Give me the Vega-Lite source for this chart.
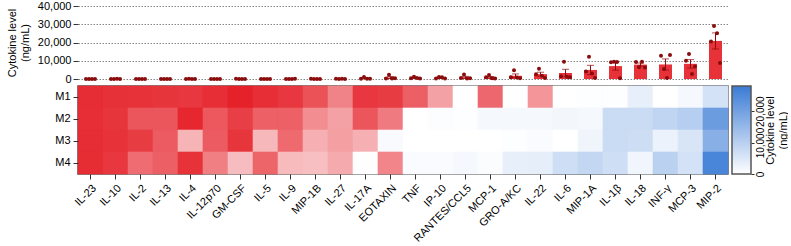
{
  "$schema": "https://vega.github.io/schema/vega-lite/v6.json",
  "padding": {"left": 6, "top": 0, "right": 0, "bottom": 0},
  "config": {
    "view": {"stroke": null},
    "font": "Liberation Sans",
    "axis": {"labelFont": "Liberation Sans", "titleFont": "Liberation Sans", "labelFontSize": 11, "titleFontSize": 11, "titleFontWeight": "normal", "labelColor": "#000000", "titleColor": "#000000", "tickColor": "#333333", "domainColor": "#333333"}
  },
  "datasets": {
    "cyto": [
      {"cytokine": "IL-23", "sample": "M1", "conc": 40, "heat": -26600},
      {"cytokine": "IL-23", "sample": "M2", "conc": 60, "heat": -26300},
      {"cytokine": "IL-23", "sample": "M3", "conc": 30, "heat": -26600},
      {"cytokine": "IL-23", "sample": "M4", "conc": 50, "heat": -26500},
      {"cytokine": "IL-10", "sample": "M1", "conc": 50, "heat": -26000},
      {"cytokine": "IL-10", "sample": "M2", "conc": 40, "heat": -25500},
      {"cytokine": "IL-10", "sample": "M3", "conc": 70, "heat": -25800},
      {"cytokine": "IL-10", "sample": "M4", "conc": 30, "heat": -25200},
      {"cytokine": "IL-2", "sample": "M1", "conc": 30, "heat": -25800},
      {"cytokine": "IL-2", "sample": "M2", "conc": 50, "heat": -21300},
      {"cytokine": "IL-2", "sample": "M3", "conc": 40, "heat": -24600},
      {"cytokine": "IL-2", "sample": "M4", "conc": 60, "heat": -18500},
      {"cytokine": "IL-13", "sample": "M1", "conc": 60, "heat": -25500},
      {"cytokine": "IL-13", "sample": "M2", "conc": 40, "heat": -21300},
      {"cytokine": "IL-13", "sample": "M3", "conc": 50, "heat": -20700},
      {"cytokine": "IL-13", "sample": "M4", "conc": 30, "heat": -20200},
      {"cytokine": "IL-4", "sample": "M1", "conc": 40, "heat": -25200},
      {"cytokine": "IL-4", "sample": "M2", "conc": 70, "heat": -27200},
      {"cytokine": "IL-4", "sample": "M3", "conc": 30, "heat": -9500},
      {"cytokine": "IL-4", "sample": "M4", "conc": 50, "heat": -25800},
      {"cytokine": "IL-12p70", "sample": "M1", "conc": 50, "heat": -26300},
      {"cytokine": "IL-12p70", "sample": "M2", "conc": 30, "heat": -21000},
      {"cytokine": "IL-12p70", "sample": "M3", "conc": 60, "heat": -20700},
      {"cytokine": "IL-12p70", "sample": "M4", "conc": 40, "heat": -16200},
      {"cytokine": "GM-CSF", "sample": "M1", "conc": 70, "heat": -28000},
      {"cytokine": "GM-CSF", "sample": "M2", "conc": 40, "heat": -24400},
      {"cytokine": "GM-CSF", "sample": "M3", "conc": 50, "heat": -25500},
      {"cytokine": "GM-CSF", "sample": "M4", "conc": 30, "heat": -8400},
      {"cytokine": "IL-5", "sample": "M1", "conc": 40, "heat": -26300},
      {"cytokine": "IL-5", "sample": "M2", "conc": 60, "heat": -20000},
      {"cytokine": "IL-5", "sample": "M3", "conc": 30, "heat": -8900},
      {"cytokine": "IL-5", "sample": "M4", "conc": 50, "heat": -19600},
      {"cytokine": "IL-9", "sample": "M1", "conc": 60, "heat": -25200},
      {"cytokine": "IL-9", "sample": "M2", "conc": 50, "heat": -20000},
      {"cytokine": "IL-9", "sample": "M3", "conc": 40, "heat": -18800},
      {"cytokine": "IL-9", "sample": "M4", "conc": 70, "heat": -8700},
      {"cytokine": "MIP-1B", "sample": "M1", "conc": 80, "heat": -21800},
      {"cytokine": "MIP-1B", "sample": "M2", "conc": 50, "heat": -14300},
      {"cytokine": "MIP-1B", "sample": "M3", "conc": 60, "heat": -10000},
      {"cytokine": "MIP-1B", "sample": "M4", "conc": 40, "heat": -8100},
      {"cytokine": "IL-27", "sample": "M1", "conc": 90, "heat": -15700},
      {"cytokine": "IL-27", "sample": "M2", "conc": 60, "heat": -11800},
      {"cytokine": "IL-27", "sample": "M3", "conc": 70, "heat": -12000},
      {"cytokine": "IL-27", "sample": "M4", "conc": 50, "heat": -10600},
      {"cytokine": "IL-17A", "sample": "M1", "conc": 150, "heat": -25200},
      {"cytokine": "IL-17A", "sample": "M2", "conc": 1100, "heat": -21300},
      {"cytokine": "IL-17A", "sample": "M3", "conc": 200, "heat": -10100},
      {"cytokine": "IL-17A", "sample": "M4", "conc": 100, "heat": 200},
      {"cytokine": "EOTAXIN", "sample": "M1", "conc": 300, "heat": -24600},
      {"cytokine": "EOTAXIN", "sample": "M2", "conc": 2350, "heat": -16800},
      {"cytokine": "EOTAXIN", "sample": "M3", "conc": 250, "heat": 1000},
      {"cytokine": "EOTAXIN", "sample": "M4", "conc": 350, "heat": -15400},
      {"cytokine": "TNF", "sample": "M1", "conc": 400, "heat": -20200},
      {"cytokine": "TNF", "sample": "M2", "conc": 1250, "heat": 0},
      {"cytokine": "TNF", "sample": "M3", "conc": 500, "heat": 0},
      {"cytokine": "TNF", "sample": "M4", "conc": 300, "heat": 800},
      {"cytokine": "IP-10", "sample": "M1", "conc": 300, "heat": -11800},
      {"cytokine": "IP-10", "sample": "M2", "conc": 1100, "heat": 500},
      {"cytokine": "IP-10", "sample": "M3", "conc": 1000, "heat": 0},
      {"cytokine": "IP-10", "sample": "M4", "conc": 300, "heat": 800},
      {"cytokine": "RANTES/CCL5", "sample": "M1", "conc": 500, "heat": 0},
      {"cytokine": "RANTES/CCL5", "sample": "M2", "conc": 2500, "heat": 300},
      {"cytokine": "RANTES/CCL5", "sample": "M3", "conc": 300, "heat": 0},
      {"cytokine": "RANTES/CCL5", "sample": "M4", "conc": 400, "heat": 1400},
      {"cytokine": "MCP-1", "sample": "M1", "conc": 900, "heat": -19000},
      {"cytokine": "MCP-1", "sample": "M2", "conc": 2200, "heat": 1400},
      {"cytokine": "MCP-1", "sample": "M3", "conc": 400, "heat": 0},
      {"cytokine": "MCP-1", "sample": "M4", "conc": 300, "heat": 600},
      {"cytokine": "GRO-A/KC", "sample": "M1", "conc": 1000, "heat": 0},
      {"cytokine": "GRO-A/KC", "sample": "M2", "conc": 4800, "heat": 1400},
      {"cytokine": "GRO-A/KC", "sample": "M3", "conc": 800, "heat": 300},
      {"cytokine": "GRO-A/KC", "sample": "M4", "conc": 400, "heat": 3400},
      {"cytokine": "IL-22", "sample": "M1", "conc": 2600, "heat": -13400},
      {"cytokine": "IL-22", "sample": "M2", "conc": 5600, "heat": 1400},
      {"cytokine": "IL-22", "sample": "M3", "conc": 1800, "heat": 800},
      {"cytokine": "IL-22", "sample": "M4", "conc": 600, "heat": 3600},
      {"cytokine": "IL-6", "sample": "M1", "conc": 1500, "heat": 0},
      {"cytokine": "IL-6", "sample": "M2", "conc": 9400, "heat": 1700},
      {"cytokine": "IL-6", "sample": "M3", "conc": 1200, "heat": 0},
      {"cytokine": "IL-6", "sample": "M4", "conc": 1000, "heat": 7000},
      {"cytokine": "MIP-1A", "sample": "M1", "conc": 4150, "heat": 300},
      {"cytokine": "MIP-1A", "sample": "M2", "conc": 12200, "heat": 1400},
      {"cytokine": "MIP-1A", "sample": "M3", "conc": 3000, "heat": 2200},
      {"cytokine": "MIP-1A", "sample": "M4", "conc": 500, "heat": 8400},
      {"cytokine": "IL-1β", "sample": "M1", "conc": 9200, "heat": 300},
      {"cytokine": "IL-1β", "sample": "M2", "conc": 9400, "heat": 7600},
      {"cytokine": "IL-1β", "sample": "M3", "conc": 9300, "heat": 7600},
      {"cytokine": "IL-1β", "sample": "M4", "conc": 400, "heat": 7000},
      {"cytokine": "IL-18", "sample": "M1", "conc": 9300, "heat": 3400},
      {"cytokine": "IL-18", "sample": "M2", "conc": 6500, "heat": 7600},
      {"cytokine": "IL-18", "sample": "M3", "conc": 9500, "heat": 7300},
      {"cytokine": "IL-18", "sample": "M4", "conc": 6300, "heat": 2000},
      {"cytokine": "INF-γ", "sample": "M1", "conc": 12700, "heat": 0},
      {"cytokine": "INF-γ", "sample": "M2", "conc": 5450, "heat": 9000},
      {"cytokine": "INF-γ", "sample": "M3", "conc": 500, "heat": 2800},
      {"cytokine": "INF-γ", "sample": "M4", "conc": 13200, "heat": 9800},
      {"cytokine": "MCP-3", "sample": "M1", "conc": 10000, "heat": 1400},
      {"cytokine": "MCP-3", "sample": "M2", "conc": 13650, "heat": 10400},
      {"cytokine": "MCP-3", "sample": "M3", "conc": 2700, "heat": 5600},
      {"cytokine": "MCP-3", "sample": "M4", "conc": 6900, "heat": 6200},
      {"cytokine": "MIP-2", "sample": "M1", "conc": 20500, "heat": 6200},
      {"cytokine": "MIP-2", "sample": "M2", "conc": 29100, "heat": 21000},
      {"cytokine": "MIP-2", "sample": "M3", "conc": 25100, "heat": 16800},
      {"cytokine": "MIP-2", "sample": "M4", "conc": 8700, "heat": 25800}
    ]
  },
  "spacing": 0,
  "resolve": {"scale": {"x": "independent", "y": "independent", "color": "independent"}},
  "vconcat": [
    {
      "width": 650,
      "height": 73,
      "data": {"name": "cyto"},
      "encoding": {
        "x": {"field": "cytokine", "type": "nominal", "axis": null,
              "scale": {"type": "band", "domain": ["IL-23","IL-10","IL-2","IL-13","IL-4","IL-12p70","GM-CSF","IL-5","IL-9","MIP-1B","IL-27","IL-17A","EOTAXIN","TNF","IP-10","RANTES/CCL5","MCP-1","GRO-A/KC","IL-22","IL-6","MIP-1A","IL-1β","IL-18","INF-γ","MCP-3","MIP-2"], "paddingInner": 0, "paddingOuter": 0}},
        "y": {"field": "conc", "type": "quantitative",
              "scale": {"domain": [0, 40000], "nice": false},
              "axis": {"values": [0, 10000, 20000, 30000, 40000], "format": ",.0f", "domain": false, "tickSize": 5, "grid": true, "gridDash": [1.5, 1.5], "gridColor": "#888888", "title": ["Cytokine level", "(ng/mL)"], "titlePadding": 7}}
      },
      "layer": [
        {
          "transform": [{"aggregate": [{"op": "mean", "field": "conc", "as": "conc"}], "groupby": ["cytokine"]}],
          "mark": {"type": "bar", "color": "#e8323a", "width": {"band": 0.52}}
        },
        {
          "mark": {"type": "errorbar", "extent": "stderr", "color": "#8b0c0c", "ticks": {"size": 7}}
        },
        {
          "transform": [{"filter": "datum.sample === 'M1'"}],
          "mark": {"type": "circle", "color": "#8b0c0c", "size": 16, "opacity": 1, "xOffset": -4.5}
        },
        {
          "transform": [{"filter": "datum.sample === 'M2'"}],
          "mark": {"type": "circle", "color": "#8b0c0c", "size": 16, "opacity": 1, "xOffset": -1.5}
        },
        {
          "transform": [{"filter": "datum.sample === 'M3'"}],
          "mark": {"type": "circle", "color": "#8b0c0c", "size": 16, "opacity": 1, "xOffset": 1.5}
        },
        {
          "transform": [{"filter": "datum.sample === 'M4'"}],
          "mark": {"type": "circle", "color": "#8b0c0c", "size": 16, "opacity": 1, "xOffset": 4.5}
        }
      ]
    },
    {
      "spacing": 1,
      "resolve": {"scale": {"x": "independent", "y": "independent"}},
      "hconcat": [
        {
          "width": 650,
          "height": 88,
          "data": {"name": "cyto"},
          "view": {"stroke": "#555555", "strokeWidth": 1.5},
          "mark": {"type": "rect", "width": {"band": 1}, "height": {"band": 1}, "strokeWidth": 0.6},
          "encoding": {
            "x": {"field": "cytokine", "type": "nominal",
                  "scale": {"type": "band", "domain": ["IL-23","IL-10","IL-2","IL-13","IL-4","IL-12p70","GM-CSF","IL-5","IL-9","MIP-1B","IL-27","IL-17A","EOTAXIN","TNF","IP-10","RANTES/CCL5","MCP-1","GRO-A/KC","IL-22","IL-6","MIP-1A","IL-1β","IL-18","INF-γ","MCP-3","MIP-2"], "paddingInner": 0, "paddingOuter": 0},
                  "axis": {"title": null, "labelAngle": -45, "labelAlign": "right", "labelBaseline": "top", "domain": false, "tickSize": 5, "labelPadding": 3}},
            "y": {"field": "sample", "type": "nominal",
                  "scale": {"type": "band", "paddingInner": 0, "paddingOuter": 0},
                  "axis": {"title": null, "domain": false, "tickSize": 5, "labelPadding": 3}},
            "color": {"field": "heat", "type": "quantitative", "legend": null,
                      "scale": {"domain": [-28000, 0, 28000], "range": ["#e52129", "#ffffff", "#3a7bd5"], "interpolate": "rgb"}},
            "stroke": {"field": "heat", "type": "quantitative", "legend": null,
                       "scale": {"domain": [-28000, 0, 28000], "range": ["#e52129", "#ffffff", "#3a7bd5"], "interpolate": "rgb"}}
          }
        },
        {
          "width": 19,
          "height": 88,
          "data": {"values": [{"lo": 0, "hi": 28000}]},
          "mark": {"type": "rect", "stroke": "#555555", "strokeWidth": 1.5,
                   "fill": {"gradient": "linear", "x1": 0, "y1": 1, "x2": 0, "y2": 0,
                            "stops": [{"offset": 0, "color": "#ffffff"}, {"offset": 1, "color": "#3a7bd5"}]}},
          "encoding": {
            "y": {"field": "lo", "type": "quantitative",
                  "scale": {"domain": [0, 28000], "nice": false},
                  "axis": {"orient": "right", "values": [0, 10000, 20000], "format": ",.0f", "domain": false, "grid": false, "tickSize": 3, "labelOverlap": false, "labelFontSize": 10, "labelAngle": 270, "labelAlign": "center", "labelBaseline": "top", "labelPadding": 1,
                           "title": ["Cytokine level", "(ng/mL)"], "titleAngle": 270, "titleAlign": "center", "titleBaseline": "top", "titleX": 13, "titleY": 44}},
            "y2": {"field": "hi"}
          }
        }
      ]
    }
  ]
}
